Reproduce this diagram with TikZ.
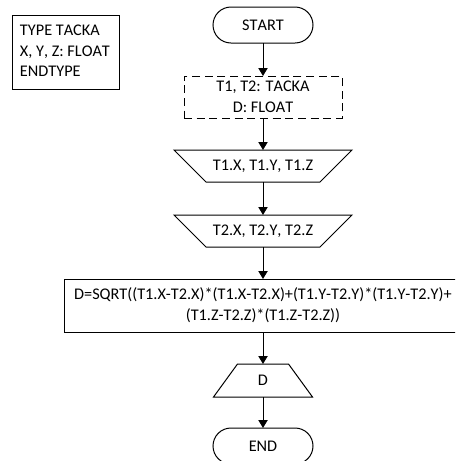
\documentclass[tikz,border=0pt]{standalone}
\usepackage{fontspec}
\setmainfont{Carlito}[Kerning=Off]
\usetikzlibrary{arrows.meta}
\begin{document}
\begin{tikzpicture}[x=0.75pt,y=-0.75pt,
  font=\fontsize{12.2}{15.5}\selectfont,
  line width=0.75pt,
  every node/.style={inner sep=0pt, outer sep=0pt, align=center},
  term/.style={draw, rounded corners=13.5pt, minimum width=75pt, minimum height=27pt},
  decl/.style={draw, dash pattern=on 6pt off 3.5pt, minimum width=118.5pt, minimum height=31.5pt},
  io/.style={minimum width=133.5pt, minimum height=24pt},
  outp/.style={minimum width=74.25pt, minimum height=24.75pt},
  proc/.style={draw, minimum width=298.5pt, minimum height=39.75pt},
  note/.style={draw, minimum width=80.25pt, minimum height=55.5pt},
  arr/.style={-{Triangle[width=7pt,length=6pt]}}]
\useasboundingbox (0,0) rectangle (455,461);
\clip (0,0) rectangle (455,461);
\node[note] (type) at (65.5,52) {};
\node[anchor=west, align=left] (typetext) at ([xshift=6pt,yshift=0.75pt]type.west) {TYPE TACKA\\X, Y, Z: FLOAT\\ENDTYPE};
\node[term] (start) at (263,25) {START};
\node[decl] (vars) at (263,97) {T1, T2: TACKA\\D: FLOAT};
\node[io] (in1) at (263,166) {T1.X, T1.Y, T1.Z};
\draw (in1.north west) -- (in1.north east) -- ([xshift=-24pt]in1.south east) -- ([xshift=24pt]in1.south west) -- cycle;
\node[io] (in2) at (263,231) {T2.X, T2.Y, T2.Z};
\draw (in2.north west) -- (in2.north east) -- ([xshift=-24pt]in2.south east) -- ([xshift=24pt]in2.south west) -- cycle;
\node[proc] (calc) at (263,305.5) {D=SQRT((T1.X-T2.X)*(T1.X-T2.X)+(T1.Y-T2.Y)*(T1.Y-T2.Y)+\\(T1.Z-T2.Z)*(T1.Z-T2.Z))};
\node[outp] (out) at (263,380.5) {D};
\draw ([xshift=18pt]out.north west) -- ([xshift=-18pt]out.north east) -- (out.south east) -- (out.south west) -- cycle;
\node[term] (end) at (263,446) {END};
\draw[arr] (start) -- (vars);
\draw[arr] (vars) -- (in1);
\draw[arr] (in1) -- (in2);
\draw[arr] (in2) -- (calc);
\draw[arr] (calc) -- (out);
\draw[arr] (out) -- (end);
\end{tikzpicture}
\end{document}
